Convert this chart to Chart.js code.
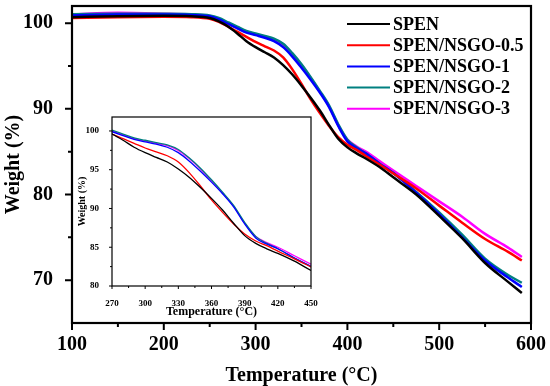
<!DOCTYPE html>
<html>
<head>
<meta charset="utf-8">
<script src="https://cdn.jsdelivr.net/npm/chart.js@4/dist/chart.umd.min.js"></script>
<style>
  html, body { margin: 0; padding: 0; background: #fff; }
  #wrap { position: relative; width: 550px; height: 386px; }
  canvas { position: absolute; left: 0; top: 0; }
</style>
</head>
<body>
<div id="wrap">
  <canvas id="main" width="550" height="386"></canvas>
  <canvas id="inset" width="550" height="386"></canvas>
</div>
<script>
// ---- data ----
const temps = [100,150,200,230,250,260,270,280,290,300,310,320,330,340,350,360,370,380,390,400,410,420,435,450,475,500,525,550,575,590];
const spen   = [100.7,100.8,100.85,100.8,100.6,100.2, 99.6,98.8,97.9,97.2,96.6,96.0,95.1,94.0,92.7,91.3,89.8,88.1,86.5,85.5,84.8,84.2,83.2,82.0, 80.0,77.5,74.9,72.0,69.8,68.5];
const nsgo05 = [100.6,100.7,100.75,100.7,100.5,100.15, 99.6,99.0,98.4,97.8,97.3,96.8,96.0,94.6,92.9,91.1,89.5,88.0,86.7,85.8,85.2,84.5,83.5,82.45, 80.7,78.7,76.7,74.8,73.3,72.3];
const nsgo1  = [100.9,101.0,101.0,100.95,100.8,100.45, 99.9,99.4,98.9,98.6,98.3,97.9,97.2,96.1,94.8,93.4,91.9,90.2,88.0,86.2,85.4,84.8,83.6,82.5, 80.2,77.7,75.0,72.3,70.3,69.2];
const nsgo2  = [101.05,101.1,101.1,101.05,100.9,100.6, 100.1,99.6,99.1,98.8,98.5,98.2,97.6,96.5,95.2,93.7,92.1,90.4,88.2,86.4,85.5,84.8,83.6,82.5, 80.3,77.9,75.3,72.5,70.6,69.7];
const nsgo3  = [101.0,101.2,101.1,101.0,100.85,100.5, 100.0,99.5,99.0,98.7,98.4,98.1,97.5,96.4,95.1,93.6,92.0,90.3,88.1,86.4,85.6,85.0,83.9,82.8, 81.0,79.2,77.4,75.4,73.8,72.7];

const seriesNames  = ['SPEN','SPEN/NSGO-0.5','SPEN/NSGO-1','SPEN/NSGO-2','SPEN/NSGO-3'];
const seriesValues = [spen, nsgo05, nsgo1, nsgo2, nsgo3];
const seriesColors = ['#000000','#ff0000','#0000ff','#008080','#ff00ff'];

const mainXTicks = [100,200,300,400,500,600];
const mainXMinor = [150,250,350,450,550];
const mainYTicks = [70,80,90,100];
const mainYMinor = [75,85,95];
const insetXTicks = [270,300,330,360,390,420,450];
const insetXMinor = [285,315,345,375,405,435];
const insetYTicks = [80,85,90,95,100];
const insetYMinor = [82.5,87.5,92.5,97.5];

const FONT = "'Liberation Serif','Times New Roman',serif";

function makeDatasets(width) {
  return seriesNames.map((name, i) => ({
    label: name,
    data: temps.map((t, j) => ({ x: t, y: seriesValues[i][j] })),
    borderColor: seriesColors[i],
    backgroundColor: seriesColors[i],
    borderWidth: width,
    pointRadius: 0,
    cubicInterpolationMode: 'monotone',
    fill: false
  }));
}

function fitX(h) { return s => { s.height = h; s.paddingLeft = 0; s.paddingRight = 0; }; }
function fitY(w) { return s => { s.width = w; s.paddingTop = 0; s.paddingBottom = 0; }; }

function frameAndTicks(opts) {
  return {
    id: 'frameTicks',
    beforeDraw(chart) {
      if (opts.whiteBg) {
        const a = chart.chartArea, c = chart.ctx;
        c.save(); c.fillStyle = '#fff';
        c.fillRect(a.left, a.top, a.right - a.left, a.bottom - a.top);
        c.restore();
      }
    },
    afterDraw(chart) {
      const c = chart.ctx, a = chart.chartArea;
      const xs = chart.scales.x, ys = chart.scales.y;
      c.save();
      c.strokeStyle = '#000';
      c.lineWidth = opts.tickWidth;
      c.beginPath();
      opts.xMajor.forEach(v => { const p = xs.getPixelForValue(v); c.moveTo(p, a.bottom); c.lineTo(p, a.bottom + opts.majorLen); });
      opts.xMinor.forEach(v => { const p = xs.getPixelForValue(v); c.moveTo(p, a.bottom); c.lineTo(p, a.bottom + opts.minorLen); });
      opts.yMajor.forEach(v => { const p = ys.getPixelForValue(v); c.moveTo(a.left, p); c.lineTo(a.left - opts.majorLen, p); });
      opts.yMinor.forEach(v => { const p = ys.getPixelForValue(v); c.moveTo(a.left, p); c.lineTo(a.left - opts.minorLen, p); });
      c.stroke();
      c.lineWidth = opts.frameWidth;
      c.strokeRect(a.left, a.top, a.right - a.left, a.bottom - a.top);
      c.restore();
    }
  };
}

const legendPlugin = {
  id: 'customLegend',
  afterDraw(chart) {
    const c = chart.ctx;
    c.save();
    c.font = "bold 18px " + FONT;
    c.textBaseline = 'middle';
    c.textAlign = 'left';
    chart.data.datasets.forEach((ds, i) => {
      const y = 24 + i * 21.2;
      c.strokeStyle = ds.borderColor;
      c.lineWidth = 2;
      c.beginPath(); c.moveTo(347, y); c.lineTo(390, y); c.stroke();
      c.fillStyle = '#000';
      c.fillText(ds.label, 393, y + 1);
    });
    c.restore();
  }
};

// ---- main chart ----
new Chart(document.getElementById('main'), {
  type: 'line',
  data: { datasets: makeDatasets(2.5) },
  options: {
    responsive: false,
    animation: false,
    layout: { padding: { top: 6, right: 19, left: 0, bottom: 0 } },
    plugins: { legend: { display: false }, tooltip: { enabled: false } },
    scales: {
      x: {
        type: 'linear', min: 100, max: 600,
        afterBuildTicks: s => { s.ticks = mainXTicks.map(v => ({ value: v })); },
        afterFit: fitX(63),
        grid: { display: false },
        border: { display: false },
        ticks: { color: '#000', padding: 2, maxRotation: 0, font: { family: FONT, size: 20, weight: 'bold' } },
        title: { display: true, text: 'Temperature (°C)', color: '#000', padding: { top: 2, bottom: 0 }, font: { family: FONT, size: 20, weight: 'bold', lineHeight: 1 } }
      },
      y: {
        min: 65, max: 102,
        afterBuildTicks: s => { s.ticks = mainYTicks.map(v => ({ value: v })); },
        afterFit: fitY(72),
        grid: { display: false },
        border: { display: false },
        ticks: { color: '#000', padding: 11, font: { family: FONT, size: 20, weight: 'bold' } },
        title: { display: true, text: 'Weight (%)', color: '#000', padding: { top: 4, bottom: 4 }, font: { family: FONT, size: 20, weight: 'bold', lineHeight: 1 } }
      }
    }
  },
  plugins: [frameAndTicks({ xMajor: mainXTicks, xMinor: mainXMinor, yMajor: mainYTicks, yMinor: mainYMinor, majorLen: 7, minorLen: 4, tickWidth: 2, frameWidth: 2.2 }), legendPlugin]
});

// ---- inset chart ----
new Chart(document.getElementById('inset'), {
  type: 'line',
  data: { datasets: makeDatasets(1.3) },
  options: {
    responsive: false,
    animation: false,
    layout: { padding: { top: 117, right: 239, left: 72, bottom: 65 } },
    plugins: { legend: { display: false }, tooltip: { enabled: false } },
    scales: {
      x: {
        type: 'linear', min: 270, max: 450,
        afterBuildTicks: s => { s.ticks = insetXTicks.map(v => ({ value: v })); },
        afterFit: fitX(35),
        grid: { display: false },
        border: { display: false },
        ticks: { color: '#000', padding: 4, maxRotation: 0, font: { family: FONT, size: 9, weight: 'bold' } },
        title: { display: true, text: 'Temperature (°C)', color: '#000', padding: { top: 1, bottom: 3 }, font: { family: FONT, size: 12, weight: 'bold', lineHeight: 1 } }
      },
      y: {
        min: 80, max: 101.8,
        afterBuildTicks: s => { s.ticks = insetYTicks.map(v => ({ value: v })); },
        afterFit: fitY(40),
        grid: { display: false },
        border: { display: false },
        ticks: { color: '#000', padding: 5, font: { family: FONT, size: 9, weight: 'bold' } },
        title: { display: true, text: 'Weight (%)', color: '#000', padding: { top: 5, bottom: 2 }, font: { family: FONT, size: 10, weight: 'bold', lineHeight: 1 } }
      }
    }
  },
  plugins: [frameAndTicks({ xMajor: insetXTicks, xMinor: insetXMinor, yMajor: insetYTicks, yMinor: insetYMinor, majorLen: 3, minorLen: 2, tickWidth: 1, frameWidth: 1.2, whiteBg: true })]
});
</script>
</body>
</html>
